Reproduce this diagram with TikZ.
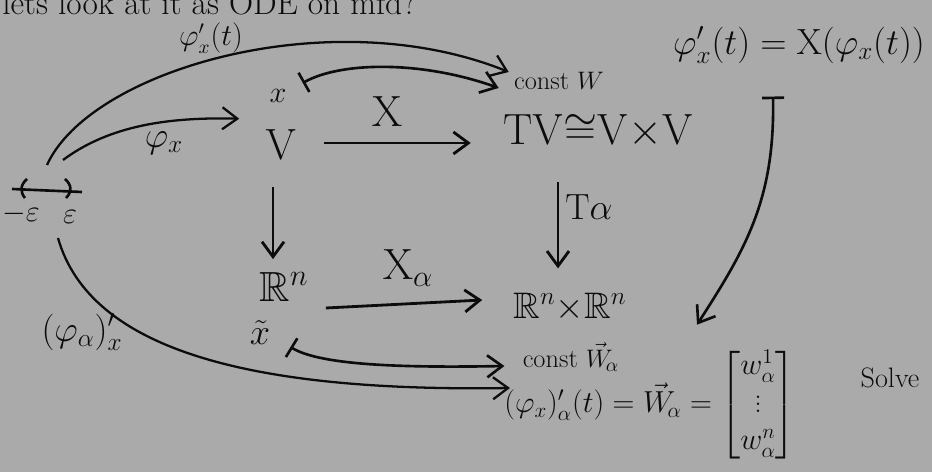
\documentclass[tikz,border=0pt]{standalone}
\usepackage{amsmath,amssymb}
\usetikzlibrary{arrows.meta,calc}
\definecolor{paper}{RGB}{170,170,170}
\definecolor{ink}{RGB}{12,12,12}
\begin{document}
\begin{tikzpicture}[x=0.02cm,y=-0.02cm,
  every node/.style={text=ink,inner sep=0pt},
  tip/.style={-{Straight Barb[length=3mm,width=4.4mm]}},
  arr/.style={draw=ink,line width=1.6pt,tip},
  carr/.style={draw=ink,line width=1.3pt,tip},
  maparr/.style={draw=ink,line width=1.5pt,{Bar[width=4.4mm]}-{Straight Barb[length=3mm,width=4.4mm]}},
  big/.style={font=\fontsize{26}{28}\selectfont},
  mid/.style={font=\fontsize{20}{22}\selectfont},
  sm/.style={font=\fontsize{16}{18}\selectfont},
  lbl/.style={font=\fontsize{15}{17}\selectfont},
]
\fill[paper] (0,0) rectangle (932,472);
\useasboundingbox (0,0) rectangle (932,472);

% texts
\node[font=\fontsize{19}{21}\selectfont, anchor=base west] (title) at (2,15) {lets look at it as ODE on mfd?};
\node[sm] (lphi) at (211,38) {$\varphi_x'(t)$};
\node[lbl] (cw) at (559,81) {const $W$};
\node[font=\fontsize{18}{20}\selectfont] (x) at (278,96) {$x$};
\node[big] (V) at (281,145) {$\mathrm{V}$};
\node[font=\fontsize{24}{26}\selectfont] (TV) at (598,131) {$\mathrm{TV}{\cong}\mathrm{V}{\times}\mathrm{V}$};
\node[big] (Xl) at (387,112) {$\mathrm{X}$};
\node[mid] (phix) at (164,143) {$\varphi_x$};
\node[font=\fontsize{24}{26}\selectfont] (Rn) at (284,287) {$\mathbb{R}^n$};
\node[mid] (xt) at (260,333) {$\tilde{x}$};
\node[font=\fontsize{21}{23}\selectfont] (RR) at (570,307) {$\mathbb{R}^n{\times}\mathbb{R}^n$};
\node[big] (Xal) at (408,268) {$\mathrm{X}_\alpha$};
\node[mid] (Ta) at (589,207) {$\mathrm{T}\alpha$};
\node[lbl] (cwa) at (571,357) {const $\vec{W}_{\!\alpha}$};
\node[font=\fontsize{17}{21}\selectfont] (eq) at (650,405) {$(\varphi_x)'_{\alpha}(t) = \vec{W}_{\!\alpha} = \begin{bmatrix} w^1_\alpha\\ \vdots\\ w^n_\alpha\end{bmatrix}$};
\node[sm] (solve) at (890,378) {Solve};
\node[font=\fontsize{20}{22}\selectfont] (req) at (799,45) {$\varphi_x'(t) = \mathrm{X}(\varphi_x(t))$};
\node[mid] (phia) at (82,332) {$(\varphi_\alpha)'_x$};
\node[sm] (meps) at (21,214) {$-\varepsilon$};
\node[sm] (eps) at (70,217) {$\varepsilon$};

% interval
\coordinate (il) at (12,189);
\coordinate (ir) at (82,192);
\coordinate (s1) at (47,165);
\coordinate (s2) at (63,160);
\coordinate (s3) at (58,238);
\draw[ink,line width=1.5pt] (il) -- (ir);
\draw[ink,line width=1.5pt] (27,179) .. controls (20,185) and (20,192) .. (25,198);
\draw[ink,line width=1.5pt] (65,179) .. controls (72,185) and (72,192) .. (66,198);

% connectors
\draw[carr] (s1) .. controls (90,70) and (330,0) .. ($(cw.west)+(-5,-9)$);
\draw[carr] (s2) .. controls (110,125) and (170,117) .. ($(V.north west)+(-26,-11)$);
\draw[arr] ($(V.east)+(27,-2)$) -- ($(TV.west)+(-32,12)$);
\draw[arr] ($(V.south)+(-8,27)$) -- ($(Rn.north)+(-11,-13)$);
\draw[arr] ($(TV.south)+(-40,34)$) -- ($(RR.north)+(-12,-24)$);
\draw[arr] ($(Rn.east)+(17,21)$) -- ($(RR.west)+(-31,-7)$);
\draw[maparr] ($(x.east)+(16,-13)$) .. controls (340,62) and (420,60) .. ($(cw.west)+(-15,7)$);
\draw[maparr] ($(xt.east)+(20,14)$) .. controls (320,365) and (400,368) .. ($(cwa.west)+(-18,9)$);
\draw[carr] (s3) .. controls (90,350) and (250,392) .. ($(eq.west)+(6,-17)$);
\draw[maparr] ($(req.south)+(-26,33)$) .. controls (775,200) and (745,250) .. ($(eq.north)+(47,-24)$);
\end{tikzpicture}
\end{document}
